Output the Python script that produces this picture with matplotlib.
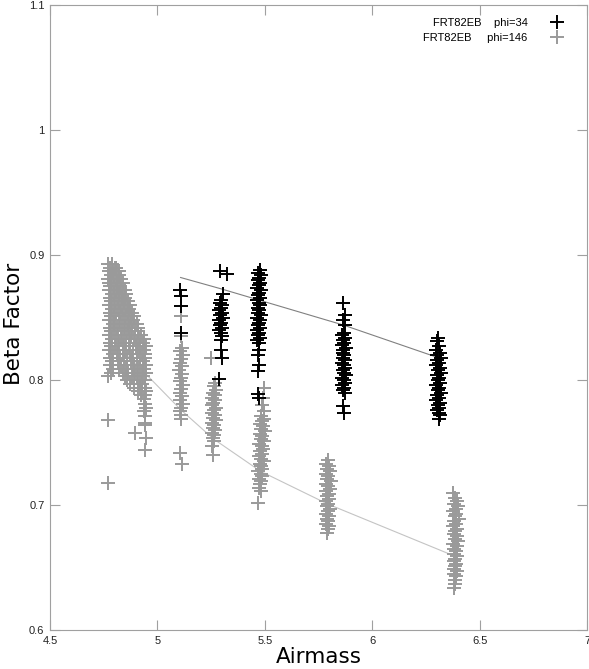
'''
Beta factor vs airmass for FRT82EB, two phase angles

'''

import matplotlib.pyplot as plt

# phi=34 (black) clusters, (airmass, beta factor)
b34_1 = [(5.105, 0.872), (5.112, 0.867), (5.108, 0.859), (5.110, 0.838)]

b34_2 = [(5.290, 0.887), (5.322, 0.885), (5.306, 0.869), (5.296, 0.864),
         (5.290, 0.862), (5.302, 0.860), (5.294, 0.858), (5.286, 0.856),
         (5.300, 0.854), (5.292, 0.852), (5.304, 0.850), (5.288, 0.848),
         (5.298, 0.846), (5.293, 0.844), (5.301, 0.842), (5.289, 0.840),
         (5.297, 0.838), (5.303, 0.835), (5.295, 0.832), (5.298, 0.824),
         (5.300, 0.818), (5.286, 0.801)]

b34_3 = [(5.476, 0.888), (5.470, 0.886), (5.480, 0.884), (5.474, 0.882),
         (5.468, 0.880), (5.478, 0.878), (5.472, 0.876), (5.466, 0.874),
         (5.481, 0.872), (5.475, 0.870), (5.469, 0.868), (5.477, 0.866),
         (5.463, 0.864), (5.473, 0.862), (5.479, 0.860), (5.467, 0.858),
         (5.474, 0.856), (5.470, 0.854), (5.482, 0.852), (5.465, 0.850),
         (5.476, 0.848), (5.471, 0.846), (5.468, 0.844), (5.478, 0.842),
         (5.464, 0.840), (5.473, 0.838), (5.469, 0.836), (5.477, 0.834),
         (5.466, 0.832), (5.472, 0.830), (5.475, 0.824), (5.468, 0.820),
         (5.473, 0.812), (5.470, 0.807), (5.467, 0.789), (5.474, 0.786)]

b34_4 = [(5.866, 0.862), (5.872, 0.852), (5.862, 0.848), (5.874, 0.844),
         (5.868, 0.838), (5.860, 0.836), (5.873, 0.834), (5.865, 0.832),
         (5.870, 0.830), (5.858, 0.828), (5.876, 0.826), (5.866, 0.824),
         (5.862, 0.822), (5.871, 0.820), (5.864, 0.818), (5.875, 0.816),
         (5.860, 0.814), (5.868, 0.812), (5.873, 0.810), (5.863, 0.808),
         (5.869, 0.806), (5.877, 0.804), (5.861, 0.802), (5.867, 0.800),
         (5.872, 0.798), (5.859, 0.796), (5.870, 0.794), (5.864, 0.792),
         (5.874, 0.790), (5.866, 0.779), (5.868, 0.774)]

b34_5 = [(6.306, 0.834), (6.300, 0.831), (6.310, 0.827), (6.298, 0.824),
         (6.314, 0.822), (6.304, 0.820), (6.318, 0.818), (6.301, 0.816),
         (6.311, 0.814), (6.296, 0.812), (6.315, 0.810), (6.306, 0.808),
         (6.320, 0.806), (6.302, 0.804), (6.312, 0.802), (6.308, 0.800),
         (6.317, 0.798), (6.299, 0.796), (6.313, 0.794), (6.305, 0.792),
         (6.319, 0.790), (6.303, 0.788), (6.310, 0.786), (6.297, 0.784),
         (6.316, 0.782), (6.307, 0.780), (6.312, 0.778), (6.301, 0.776),
         (6.309, 0.774), (6.314, 0.772), (6.310, 0.769)]

# phi=146 (grey): the big low-airmass blob, rows of (beta, [airmass, ...])
g146_blob_rows = [
    (0.893, [4.771, 4.788]),
    (0.890, [4.779, 4.801, 4.809]),
    (0.887, [4.774, 4.793, 4.814, 4.823]),
    (0.884, [4.783, 4.797, 4.819]),
    (0.881, [4.772, 4.806, 4.790, 4.829]),
    (0.878, [4.786, 4.777, 4.812, 4.838]),
    (0.875, [4.781, 4.799, 4.826, 4.816]),
    (0.872, [4.775, 4.808, 4.831, 4.847]),
    (0.869, [4.788, 4.796, 4.822, 4.841, 4.856]),
    (0.866, [4.779, 4.811, 4.834, 4.851]),
    (0.863, [4.784, 4.803, 4.819, 4.846, 4.865]),
    (0.860, [4.774, 4.797, 4.829, 4.859, 4.872]),
    (0.857, [4.789, 4.815, 4.838, 4.851, 4.868]),
    (0.854, [4.778, 4.806, 4.824, 4.863, 4.883]),
    (0.851, [4.785, 4.798, 4.833, 4.855, 4.876, 4.893]),
    (0.848, [4.776, 4.819, 4.844, 4.869, 4.888]),
    (0.845, [4.791, 4.803, 4.828, 4.861, 4.879, 4.905]),
    (0.842, [4.781, 4.812, 4.849, 4.866, 4.897, 4.911]),
    (0.839, [4.786, 4.799, 4.836, 4.857, 4.884, 4.909]),
    (0.836, [4.774, 4.816, 4.843, 4.877, 4.896, 4.925]),
    (0.833, [4.789, 4.807, 4.831, 4.869, 4.890, 4.916, 4.939]),
    (0.830, [4.779, 4.821, 4.853, 4.874, 4.903, 4.933]),
    (0.827, [4.785, 4.804, 4.840, 4.867, 4.899, 4.921, 4.947]),
    (0.824, [4.776, 4.818, 4.848, 4.885, 4.912, 4.936]),
    (0.821, [4.792, 4.811, 4.838, 4.871, 4.904, 4.928, 4.944]),
    (0.818, [4.780, 4.826, 4.859, 4.882, 4.917, 4.941]),
    (0.815, [4.787, 4.815, 4.846, 4.876, 4.907, 4.934]),
    (0.812, [4.778, 4.832, 4.857, 4.893, 4.921, 4.946]),
    (0.809, [4.793, 4.819, 4.852, 4.886, 4.910, 4.938]),
    (0.806, [4.783, 4.838, 4.864, 4.898, 4.927, 4.945]),
    (0.803, [4.768, 4.849, 4.881, 4.906, 4.933]),
    (0.800, [4.859, 4.893, 4.917, 4.944]),
    (0.797, [4.874, 4.908, 4.929]),
    (0.794, [4.889, 4.921, 4.942]),
    (0.791, [4.911, 4.930, 4.946]),
    (0.788, [4.922, 4.943]),
    (0.785, [4.937]),
]

g146_1_tail = [(4.942, 0.781), (4.946, 0.778), (4.936, 0.775), (4.944, 0.771),
               (4.940, 0.766), (4.944, 0.764), (4.945, 0.754), (4.943, 0.744),
               (4.770, 0.768), (4.896, 0.758), (4.770, 0.718)]

g146_2 = [(5.112, 0.851), (5.108, 0.835), (5.115, 0.826), (5.104, 0.823),
          (5.118, 0.820), (5.110, 0.817), (5.106, 0.814), (5.114, 0.811),
          (5.102, 0.808), (5.116, 0.805), (5.109, 0.802), (5.105, 0.799),
          (5.119, 0.796), (5.111, 0.793), (5.103, 0.790), (5.113, 0.787),
          (5.107, 0.784), (5.117, 0.781), (5.110, 0.778), (5.104, 0.775),
          (5.112, 0.772), (5.108, 0.769), (5.105, 0.742), (5.113, 0.733)]

g146_3 = [(5.250, 0.818), (5.268, 0.798), (5.262, 0.795), (5.272, 0.792),
          (5.258, 0.790), (5.266, 0.788), (5.254, 0.786), (5.270, 0.784),
          (5.261, 0.782), (5.256, 0.780), (5.274, 0.778), (5.263, 0.776),
          (5.252, 0.774), (5.267, 0.772), (5.259, 0.770), (5.271, 0.768),
          (5.255, 0.766), (5.264, 0.764), (5.260, 0.762), (5.269, 0.760),
          (5.253, 0.758), (5.265, 0.756), (5.258, 0.754), (5.262, 0.751),
          (5.256, 0.747), (5.261, 0.740)]

g146_4 = [(5.496, 0.794), (5.492, 0.786), (5.488, 0.780), (5.494, 0.775),
          (5.482, 0.771), (5.497, 0.769), (5.488, 0.767), (5.479, 0.765),
          (5.493, 0.763), (5.484, 0.761), (5.499, 0.759), (5.476, 0.757),
          (5.489, 0.755), (5.483, 0.753), (5.495, 0.751), (5.474, 0.749),
          (5.486, 0.747), (5.491, 0.745), (5.478, 0.743), (5.488, 0.741),
          (5.472, 0.739), (5.484, 0.737), (5.494, 0.735), (5.476, 0.733),
          (5.482, 0.731), (5.489, 0.729), (5.470, 0.727), (5.480, 0.725),
          (5.486, 0.723), (5.474, 0.721), (5.483, 0.719), (5.477, 0.717),
          (5.472, 0.714), (5.480, 0.711), (5.468, 0.702)]

g146_5 = [(5.792, 0.736), (5.786, 0.733), (5.798, 0.731), (5.790, 0.729),
          (5.802, 0.727), (5.784, 0.725), (5.796, 0.723), (5.789, 0.721),
          (5.806, 0.719), (5.787, 0.717), (5.794, 0.715), (5.804, 0.713),
          (5.785, 0.711), (5.797, 0.709), (5.791, 0.707), (5.800, 0.705),
          (5.783, 0.703), (5.795, 0.701), (5.788, 0.699), (5.803, 0.697),
          (5.792, 0.695), (5.786, 0.693), (5.799, 0.691), (5.790, 0.689),
          (5.796, 0.687), (5.785, 0.685), (5.801, 0.683), (5.793, 0.681),
          (5.790, 0.678)]

g146_6 = [(6.378, 0.710), (6.386, 0.706), (6.394, 0.703), (6.380, 0.701),
          (6.398, 0.699), (6.388, 0.697), (6.376, 0.695), (6.392, 0.693),
          (6.384, 0.691), (6.402, 0.689), (6.382, 0.687), (6.390, 0.685),
          (6.378, 0.683), (6.396, 0.681), (6.386, 0.679), (6.380, 0.677),
          (6.393, 0.675), (6.384, 0.673), (6.400, 0.671), (6.377, 0.669),
          (6.395, 0.667), (6.383, 0.665), (6.389, 0.663), (6.381, 0.661),
          (6.397, 0.659), (6.385, 0.657), (6.379, 0.655), (6.391, 0.653),
          (6.387, 0.651), (6.382, 0.649), (6.394, 0.647), (6.380, 0.645),
          (6.388, 0.643), (6.384, 0.640), (6.386, 0.637), (6.383, 0.634)]

# fitted trend lines
fit34_airmass = [5.108, 5.295, 5.472, 5.865, 6.305]
fit34_beta = [0.882, 0.873, 0.864, 0.844, 0.818]
fit146_airmass = [4.86, 5.11, 5.26, 5.48, 5.79, 6.385]
fit146_beta = [0.820, 0.776, 0.753, 0.727, 0.701, 0.659]

x_ticks = [4.5, 5, 5.5, 6, 6.5, 7]
x_tick_labels = ['4.5', '5', '5.5', '6', '6.5', '7']
y_ticks = [0.6, 0.7, 0.8, 0.9, 1.0, 1.1]
y_tick_labels = ['0.6', '0.7', '0.8', '0.9', '1', '1.1']

phi34 = b34_1 + b34_2 + b34_3 + b34_4 + b34_5
g146_blob = [(x, b) for b, xs in g146_blob_rows for x in xs]
phi146 = g146_blob + g146_1_tail + g146_2 + g146_3 + g146_4 + g146_5 + g146_6

phi34_airmass, phi34_beta = zip(*phi34)
phi146_airmass, phi146_beta = zip(*phi146)

frame_col = '#a0a0a0'

fig = plt.figure(figsize=(5.89, 6.69), dpi=100)
ax = fig.add_axes([50 / 589, 39 / 669, 537 / 589, 625 / 669])

ax.plot(fit34_airmass, fit34_beta, color='#808080', lw=0.8, zorder=1)
ax.plot(fit146_airmass, fit146_beta, color='#c4c4c4', lw=0.8, zorder=1)

h146, = ax.plot(phi146_airmass, phi146_beta, ls='none', marker='+', ms=10,
                mew=1.4, color='#9a9a9a', zorder=2)
h34, = ax.plot(phi34_airmass, phi34_beta, ls='none', marker='+', ms=10,
               mew=1.4, color='black', zorder=3)

ax.set_xlim(4.5, 7)
ax.set_ylim(0.6, 1.1)
ax.set_xticks(x_ticks)
ax.set_xticklabels(x_tick_labels)
ax.set_yticks(y_ticks)
ax.set_yticklabels(y_tick_labels)
ax.tick_params(direction='in', length=7, width=0.8, color=frame_col,
               top=True, right=True, labelsize=8, labelcolor='#222222', pad=4)
for lab in ax.get_xticklabels() + ax.get_yticklabels():
    lab.set_family('Liberation Sans')
for sp in ax.spines.values():
    sp.set_color(frame_col)
    sp.set_linewidth(0.8)

ax.set_xlabel('Airmass', fontsize=15.5, family='DejaVu Sans', labelpad=1)
ax.set_ylabel('Beta Factor', fontsize=15.5, family='DejaVu Sans')
ax.yaxis.set_label_coords(-0.049, 0.49)

leg = ax.legend([h34, h146], ['FRT82EB    phi=34', 'FRT82EB     phi=146'],
                loc='upper right', bbox_to_anchor=(0.968, 0.987),
                borderaxespad=0, frameon=False, markerfirst=False,
                handlelength=1.5, handletextpad=1.9, labelspacing=0.5,
                prop={'family': 'Liberation Sans', 'size': 8})
# right-justify the legend text like the original
leg._legend_handle_box.get_children()[0].align = 'right'

fig.savefig('out.png', dpi=100)
